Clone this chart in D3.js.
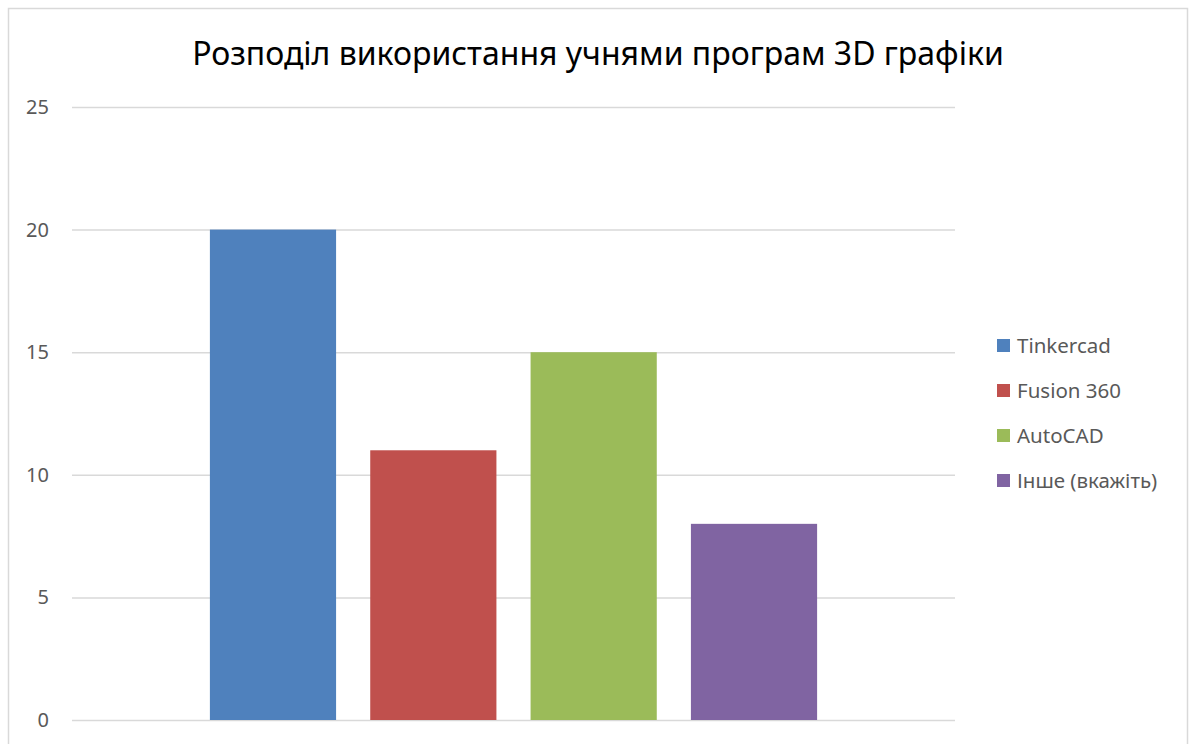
<!DOCTYPE html>
<html>
<head>
<meta charset="utf-8">
<script src="https://cdn.jsdelivr.net/npm/d3@7"></script>
<style>
  body { margin: 0; background: #fff; }
  svg { display: block; font-family: "Noto Sans", "DejaVu Sans", sans-serif; }
</style>
</head>
<body>
<svg id="chart" width="1191" height="744"></svg>
<script>
// chart data
var title = "Розподіл використання учнями програм 3D графіки";
var seriesNames = ["Tinkercad", "Fusion 360", "AutoCAD", "Інше (вкажіть)"];
var seriesValues = [20, 11, 15, 8];
var seriesColors = ["#4F81BD", "#C0504D", "#9BBB59", "#8064A2"];
var yTicks = [0, 5, 10, 15, 20, 25];

var margin = { top: 107, right: 236, bottom: 24, left: 72 },
  width = 1191 - margin.left - margin.right,
  height = 744 - margin.top - margin.bottom;

var svg = d3.select("#chart");

// outer frame of the chart (bottom edge falls outside the picture)
svg.append("rect")
  .attr("x", 8.5).attr("y", 8.5)
  .attr("width", 1179).attr("height", 760)
  .attr("fill", "none")
  .attr("stroke", "#D9D9D9")
  .attr("stroke-width", 1.5);

svg.append("text")
  .attr("x", 598)
  .attr("y", 65)
  .attr("text-anchor", "middle")
  .attr("font-size", 32)
  .attr("fill", "#000")
  .text(title);

var g = svg.append("g")
  .attr("transform", "translate(" + margin.left + "," + margin.top + ")");

var y = d3.scaleLinear().domain([0, 25]).range([613, 0]);
var x = d3.scaleBand()
  .domain(seriesNames)
  .range([0, width])
  .paddingInner(0.213)
  .paddingOuter(0.86);

// gridlines + tick labels
var yAxis = g.append("g")
  .call(d3.axisLeft(y).tickValues(yTicks).tickSize(-width).tickFormat(d3.format("d")));
yAxis.select(".domain").remove();
yAxis.selectAll(".tick line")
  .attr("stroke", "#D9D9D9")
  .attr("stroke-width", 1.5);
yAxis.selectAll(".tick text")
  .attr("x", -23)
  .attr("font-size", 20)
  .attr("font-family", "Noto Sans, DejaVu Sans, sans-serif")
  .attr("fill", "#595959");

// bars
g.selectAll(".bar")
  .data(seriesValues)
  .enter()
  .append("rect")
  .attr("class", "bar")
  .attr("x", function (d, i) { return x(seriesNames[i]); })
  .attr("y", function (d) { return y(d); })
  .attr("width", x.bandwidth())
  .attr("height", function (d) { return y(0) - y(d); })
  .attr("fill", function (d, i) { return seriesColors[i]; });

// legend
var legend = svg.append("g").attr("transform", "translate(997,346)");
var item = legend.selectAll(".item")
  .data(seriesNames)
  .enter()
  .append("g")
  .attr("transform", function (d, i) { return "translate(0," + i * 45 + ")"; });
item.append("rect")
  .attr("x", 0).attr("y", -7)
  .attr("width", 13).attr("height", 13)
  .attr("fill", function (d, i) { return seriesColors[i]; });
item.append("text")
  .attr("x", 20)
  .attr("y", 0)
  .attr("dy", "0.35em")
  .attr("font-size", 20.5)
  .attr("fill", "#595959")
  .text(function (d) { return d; });
</script>
</body>
</html>
